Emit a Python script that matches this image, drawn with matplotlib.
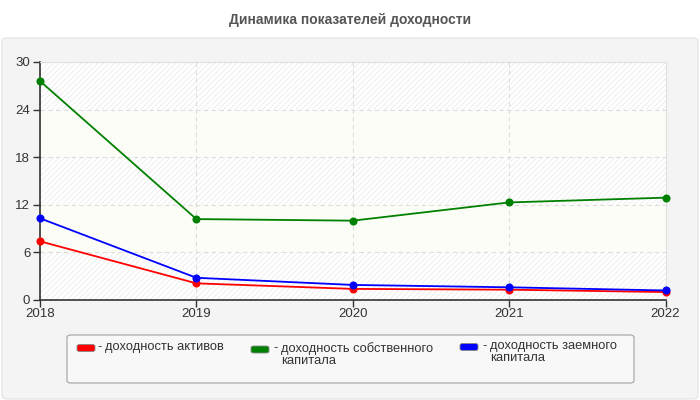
import matplotlib.pyplot as plt
from matplotlib.patches import FancyBboxPatch

years = [2018, 2019, 2020, 2021, 2022]
assets = [7.4, 2.1, 1.4, 1.3, 1.0]
equity = [27.6, 10.2, 10.0, 12.3, 12.9]
borrowed = [10.3, 2.8, 1.9, 1.6, 1.2]

labels = ['доходность активов', 'доходность собственного\nкапитала', 'доходность заемного\nкапитала']
colors = ['#ff0000', '#008000', '#0000ff']
yticks = [0, 6, 12, 18, 24, 30]

plt.rcParams['font.family'] = ['Liberation Sans', 'DejaVu Sans']
plt.rcParams['hatch.color'] = '#e8e8e8'
plt.rcParams['hatch.linewidth'] = 0.5

W, H = 700, 400
fig = plt.figure(figsize=(7, 4), dpi=100)
fig.patch.set_facecolor('white')

# grey panel under the title
panel = FancyBboxPatch((2 / W, 1 - 399 / H), 696 / W, 361 / H,
                       boxstyle='round,pad=0,rounding_size=0.008',
                       transform=fig.transFigure, facecolor='#f4f4f4',
                       edgecolor='#e2e2e2', linewidth=0.8, zorder=-5)
fig.patches.append(panel)

fig.text(350 / W, 1 - 20 / H, 'Динамика показателей доходности', ha='center', va='center',
         fontsize=10, fontweight='bold', color='#555555')

ax = fig.add_axes([40 / W, 1 - 300 / H, 625.5 / W, 238 / H])
ax.set_zorder(1)
ax.set_facecolor('white')

# alternating bands
for i in range(len(yticks) - 1):
    lo, hi = yticks[i], yticks[i + 1]
    if i % 2 == 0:
        ax.axhspan(lo, hi, facecolor='white', hatch='//////', edgecolor='#e8e8e8', linewidth=0, zorder=0)
    else:
        ax.axhspan(lo, hi, facecolor='#fdfdf7', linewidth=0, zorder=0)

series = [assets, equity, borrowed]
for vals, c in zip(series, colors):
    ax.plot(years, vals, color=c, linewidth=1.3, marker='o', markersize=4.8, zorder=3, clip_on=False)

ax.set_xlim(2018, 2022)
ax.set_ylim(0, 30)
ax.set_xticks(years)
ax.set_yticks(yticks)
ax.grid(True, color='#dddddd', linestyle=(0, (4, 3)), linewidth=0.8, zorder=1)
ax.set_axisbelow(True)

for s in ['top', 'right']:
    ax.spines[s].set_color('#e0e0e0')
    ax.spines[s].set_linewidth(0.8)
for s in ['left', 'bottom']:
    ax.spines[s].set_color('#333333')
    ax.spines[s].set_linewidth(1.2)
ax.tick_params(axis='both', colors='#333333', labelsize=9.5, length=5, width=1, labelcolor='#333333')
ax.tick_params(axis='y', pad=2)
ax.tick_params(axis='x', pad=1)

# legend box
lbox = FancyBboxPatch((67 / W, 1 - 383 / H), 567 / W, 48 / H,
                      boxstyle='round,pad=0,rounding_size=0.006',
                      transform=fig.transFigure, facecolor='#f8f8f8',
                      edgecolor='#aaaaaa', linewidth=0.9, zorder=-4)
fig.patches.append(lbox)

sw_x = [77, 251, 460]
txt_x = [97, 273, 482]
sw_y = [348, 349.5, 347]
for sx, tx, sy, c, lab in zip(sw_x, txt_x, sw_y, colors, labels):
    sw = FancyBboxPatch((sx / W, 1 - (sy + 3.5) / H), 18 / W, 7 / H,
                        boxstyle='round,pad=0,rounding_size=0.004',
                        transform=fig.transFigure, facecolor=c,
                        edgecolor='#888888', linewidth=0.6, zorder=-3)
    fig.patches.append(sw)
    fig.text(tx / W, 1 - (sy - 7) / H, '-', ha='left', va='top',
             fontsize=9.3, color='#333333')
    fig.text((tx + 8) / W, 1 - (sy - 7) / H, lab, ha='left', va='top',
             fontsize=9.3, color='#333333', linespacing=0.95)

fig.savefig('out.png', dpi=100)
